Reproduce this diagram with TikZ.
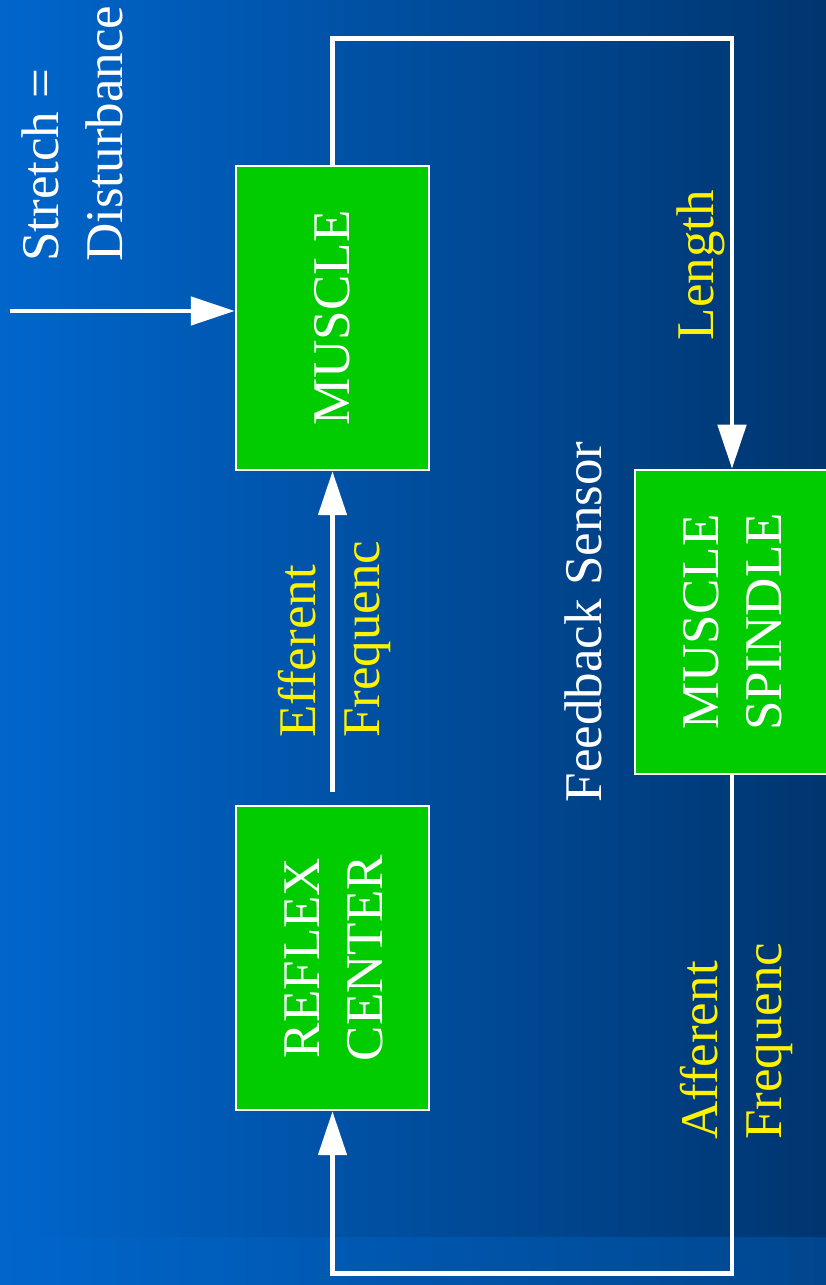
\documentclass[tikz,border=0pt]{standalone}
\usepackage{fontspec}
\setmainfont{Liberation Serif}
\usepackage{graphicx}
\usetikzlibrary{arrows.meta}

\definecolor{bgleft}{HTML}{0066CC}
\definecolor{bgright}{HTML}{00356F}
\definecolor{bandright}{HTML}{00468E}
\definecolor{boxgreen}{HTML}{00CC00}

\newcommand{\twolines}[2]{\begin{tabular}{@{}c@{}}\rule{0pt}{55pt}#1\\#2\end{tabular}}

\begin{document}
\begin{tikzpicture}[x=1pt, y=1pt,
  block/.style={draw=white, line width=2.5pt, fill=boxgreen, minimum width=193pt,
    minimum height=304pt, inner sep=0pt, text=white, font=\fontsize{53}{63}\selectfont},
  wire/.style={draw=white, line width=4.8pt},
  arr/.style={wire, -{Triangle[length=44pt, width=28pt]}},
  lbl/.style={rotate=90, inner sep=0pt, align=left, font=\fontsize{53}{64}\selectfont}]
  \useasboundingbox (0,0) rectangle (826,1285);
  % background
  \shade[left color=bgleft, right color=bgright] (0,0) rectangle (826,1285);
  \shade[left color=bgleft, right color=bandright] (0,0) rectangle (826,47);

  % blocks
  \node[block] (muscle) at (332.5,967) {\rotatebox{90}{MUSCLE}};
  \node[block] (reflex) at (332.5,327) {\rotatebox{90}{\twolines{REFLEX}{CENTER}}};
  \node[block, minimum width=194pt] (spindle) at (732,663) {\rotatebox{90}{\twolines{MUSCLE}{SPINDLE}}};

  % connectors
  \coordinate (stretchin) at (10,974);
  \draw[arr] (stretchin) -- (stretchin -| muscle.west);
  \draw[arr] (muscle.north) -- ++(0,126) -| (spindle.north);
  \draw[arr] (spindle.south) -- ++(0,-498) -| (reflex.south);
  \draw[arr, shorten <=13pt] (reflex.north) -- (muscle.south);

  % labels
  \node[lbl, text=white, anchor=north west] (stretch) at (22,1023) {Stretch =\\Disturbance};
  \node[lbl, text=yellow, anchor=north west] (efferent) at (278,547) {Efferent\\Frequenc};
  \node[lbl, text=yellow, anchor=north west] (afferent) at (680,145) {Afferent\\Frequenc};
  \node[lbl, text=white, anchor=north] (feedback) at (565,663) {Feedback Sensor};
  \node[lbl, text=yellow, anchor=north] (length) at (677,1020) {Length};
\end{tikzpicture}
\end{document}
